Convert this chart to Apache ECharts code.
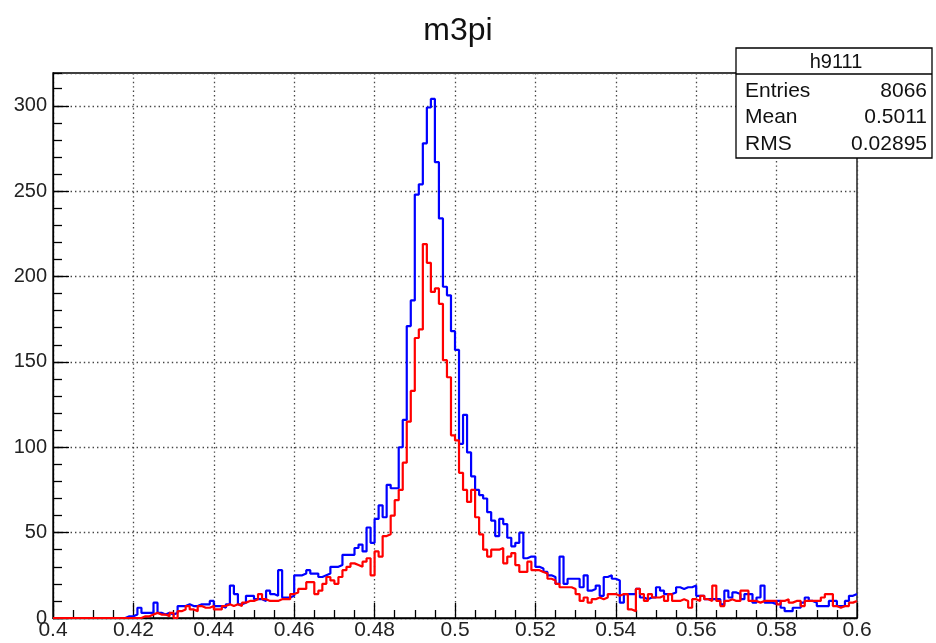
<!DOCTYPE html>
<html>
<head>
<meta charset="utf-8">
<title>m3pi</title>
<script src="https://cdn.jsdelivr.net/npm/echarts@6/dist/echarts.min.js"></script>
<style>
  html, body { margin: 0; padding: 0; background: #fff; }
  #chart { width: 936px; height: 643px; }
</style>
</head>
<body>
<div id="chart"></div>
<script>
  const titleText = 'm3pi'
  const xMin = 0.4
  const xMax = 0.6
  const binWidth = 0.001
  const yMax = 319.2

  // bin contents, 200 bins of 0.001 from 0.4 to 0.6
  const blueCounts = [
    0, 0, 0, 0, 0, 0, 0, 0, 0, 0, 0, 0, 0, 0, 0, 0, 0, 0, 1, 1,
    2, 6, 3, 3, 3, 9, 3, 2, 3, 2, 3, 7, 7, 8, 7, 7, 8, 8, 8, 10,
    7, 7, 6, 8, 19, 14, 8, 9, 13, 13, 11, 11, 10, 16, 14, 13, 28, 12, 12, 13,
    25, 25, 26, 28, 26, 26, 24, 25, 26, 30, 30, 31, 37, 37, 37, 41, 43, 39, 53, 44,
    58, 66, 59, 78, 76, 76, 100, 116, 171, 186, 248, 254, 278, 299, 304, 267, 234, 194, 189, 168,
    157, 102, 119, 97, 83, 75, 72, 70, 62, 57, 48, 58, 55, 47, 42, 44, 50, 35, 36, 36,
    30, 29, 27, 25, 24, 20, 36, 20, 23, 23, 23, 18, 25, 16, 17, 19, 13, 24, 25, 23,
    22, 9, 14, 14, 14, 17, 12, 11, 12, 12, 18, 16, 14, 14, 15, 18, 17, 18, 18, 19,
    13, 13, 11, 11, 11, 11, 8, 16, 12, 15, 14, 11, 14, 14, 9, 12, 19, 9, 9, 8,
    10, 6, 4, 4, 6, 6, 9, 12, 10, 9, 7, 7, 7, 10, 10, 7, 7, 10, 13, 14
  ]
  const redCounts = [
    0, 0, 0, 0, 0, 0, 0, 0, 0, 0, 0, 0, 0, 0, 0, 0, 0, 0, 0, 0,
    0, 0, 1, 1, 2, 3, 2, 2, 1, 3, 0, 4, 5, 7, 5, 4, 7, 6, 6, 7,
    5, 5, 7, 8, 7, 8, 7, 9, 10, 10, 11, 14, 11, 10, 10, 10, 11, 11, 11, 14,
    15, 17, 17, 21, 21, 14, 16, 20, 24, 22, 20, 24, 28, 30, 32, 31, 30, 33, 35, 25,
    39, 36, 48, 49, 60, 69, 75, 91, 115, 133, 164, 169, 219, 208, 191, 193, 184, 151, 141, 107,
    104, 85, 75, 68, 75, 59, 49, 40, 36, 40, 40, 41, 32, 36, 38, 31, 27, 27, 33, 28,
    28, 27, 26, 23, 22, 20, 18, 18, 18, 17, 14, 10, 12, 9, 11, 12, 11, 12, 14, 14,
    13, 14, 14, 5, 4, 17, 14, 10, 14, 12, 12, 13, 10, 14, 10, 10, 11, 10, 6, 11,
    10, 13, 11, 10, 19, 10, 7, 10, 11, 10, 10, 16, 16, 10, 10, 9, 10, 10, 10, 10,
    8, 10, 11, 9, 10, 10, 7, 10, 10, 10, 10, 12, 14, 14, 7, 6, 7, 7, 9, 10
  ]

  const statsName = 'h9111'
  const statsLabels = ['Entries', 'Mean', 'RMS']
  const statsValues = ['8066', '0.5011', '0.02895']

  const font = 'Liberation Sans, Arial, sans-serif'

  // points on the low edge of every bin, plus the closing edge, drawn as steps
  function toSteps(counts) {
    const pts = counts.map((c, i) => [+(xMin + i * binWidth).toFixed(4), c])
    pts.push([xMax, counts[counts.length - 1]])
    return pts
  }

  const statsGraphics = [
    {
      type: 'rect',
      shape: { x: 736, y: 48, width: 196, height: 110 },
      style: { fill: '#fff', stroke: '#000', lineWidth: 1.3 },
      z: 100
    },
    {
      type: 'line',
      shape: { x1: 736, y1: 74, x2: 932, y2: 74 },
      style: { stroke: '#000', lineWidth: 1.3 },
      z: 101
    },
    {
      type: 'text',
      x: 836, y: 62,
      style: { text: statsName, fill: '#111', font: '20px ' + font, textAlign: 'center', textVerticalAlign: 'middle' },
      z: 101
    }
  ]
  statsLabels.forEach((lab, i) => {
    const y = 91 + i * 26.5
    statsGraphics.push({
      type: 'text', x: 745, y: y,
      style: { text: lab, fill: '#111', font: '21px ' + font, textAlign: 'left', textVerticalAlign: 'middle' },
      z: 101
    })
    statsGraphics.push({
      type: 'text', x: 927, y: y,
      style: { text: statsValues[i], fill: '#111', font: '21px ' + font, textAlign: 'right', textVerticalAlign: 'middle' },
      z: 101
    })
  })

  const gridDots = { color: '#444', type: [1.4, 3], width: 1.3 }

  const chart = echarts.init(document.getElementById('chart'))
  chart.setOption({
    backgroundColor: '#fff',
    animation: false,
    grid: {
      left: 53, right: 79, top: 73, bottom: 25,
      show: true, borderColor: '#000', borderWidth: 1.3, backgroundColor: 'transparent'
    },
    graphic: [
      {
        type: 'text', x: 458, y: 31,
        style: { text: titleText, fill: '#111', font: '32px ' + font, textAlign: 'center', textVerticalAlign: 'middle' }
      }
    ].concat(statsGraphics),
    xAxis: {
      type: 'value',
      min: xMin,
      max: xMax,
      interval: 0.02,
      axisLine: { show: true, onZero: false, lineStyle: { color: '#000', width: 1.3 } },
      axisTick: { show: true, inside: true, length: 15, lineStyle: { color: '#000', width: 1.3 } },
      minorTick: { show: true, splitNumber: 4, length: 8, lineStyle: { color: '#000', width: 1.3 } },
      axisLabel: { color: '#222', fontSize: 21, fontFamily: font, margin: 2 },
      splitLine: { show: true, lineStyle: gridDots }
    },
    yAxis: [
      {
        type: 'value',
        min: 0,
        max: yMax,
        interval: 50,
        axisLine: { show: true, lineStyle: { color: '#000', width: 1.3 } },
        axisTick: { show: true, inside: true, length: 16, lineStyle: { color: '#000', width: 1.3 } },
        axisLabel: { color: '#222', fontSize: 20, fontFamily: font, margin: 6, showMaxLabel: false },
        splitLine: { show: true, lineStyle: gridDots }
      },
      {
        // minor ticks every 10
        type: 'value',
        position: 'left',
        min: 0,
        max: yMax,
        interval: 10,
        axisLine: { show: false },
        axisTick: { show: true, inside: true, length: 9, lineStyle: { color: '#000', width: 1.3 } },
        axisLabel: { show: false },
        splitLine: { show: false }
      }
    ],
    series: [
      {
        name: 'blue',
        type: 'line',
        step: 'end',
        data: toSteps(blueCounts),
        symbol: 'none',
        lineStyle: { color: '#0000ff', width: 2.2 },
        itemStyle: { color: '#0000ff' },
        z: 3
      },
      {
        name: 'red',
        type: 'line',
        step: 'end',
        data: toSteps(redCounts),
        symbol: 'none',
        lineStyle: { color: '#ff0000', width: 2.2 },
        itemStyle: { color: '#ff0000' },
        z: 4
      }
    ]
  })
</script>
</body>
</html>
